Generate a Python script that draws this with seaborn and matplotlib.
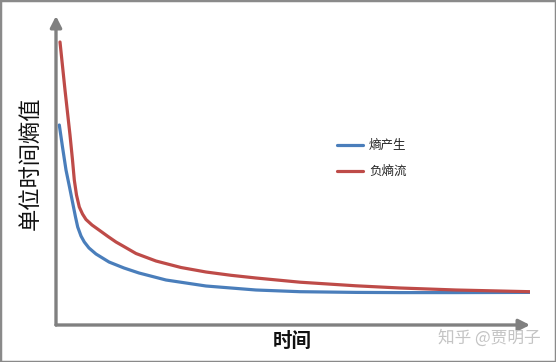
import matplotlib
matplotlib.use("Agg")
import matplotlib.pyplot as plt
import seaborn as sns
import pandas as pd
from matplotlib.patches import Rectangle

# data (arbitrary units)
time_blue = [3.3, 6.5, 10, 13.5, 16.7, 19.5, 21.7, 25, 28.3, 33, 40, 53, 68, 83, 110, 150, 200, 244, 300, 344, 400, 474]
entropy_production = [200, 178, 155, 138, 122, 108, 98, 89, 83, 77, 71, 63, 57, 52, 45, 39, 35, 33.3, 32.6, 32.4, 32.4, 32.6]
time_red = [4, 9, 14, 16.5, 18.3, 20.5, 23.3, 26.5, 30, 36, 43, 52, 60, 67, 80, 100, 125, 150, 175, 200, 244, 300, 344, 400, 474]
negative_entropy_flow = [283, 235, 190, 165, 145, 130, 118, 111, 105.5, 100, 95, 88.5, 83, 79, 71.5, 64, 57.5, 53, 49.7, 47, 42.8, 39.2, 37, 35, 33.3]
series_names = ["熵产生", "负熵流"]
colors = ["#4a7ebb", "#be4b48"]

df = pd.concat([
    pd.DataFrame({"t": time_blue, "v": entropy_production, "s": series_names[0]}),
    pd.DataFrame({"t": time_red, "v": negative_entropy_flow, "s": series_names[1]}),
])

sns.set_theme(style="white")
plt.rcParams["font.family"] = ["Noto Sans CJK SC", "DejaVu Sans"]

W, H = 556, 362
fig = plt.figure(figsize=(W / 100, H / 100), dpi=100)
ax = fig.add_axes([56 / W, 1 - 325 / H, (530 - 56) / W, (325 - 16) / H])
ax.set_facecolor("none")

sns.lineplot(data=df, x="t", y="v", hue="s", palette=colors, linewidth=2.3,
             ax=ax, sort=False, estimator=None, solid_joinstyle="round",
             solid_capstyle="round")
ax.set_xlim(0, 474)
ax.set_ylim(0, 309)
for sp in ax.spines.values():
    sp.set_visible(False)
ax.set_xticks([])
ax.set_yticks([])
ax.set_xlabel("")
ax.set_ylabel("")

axis_color = "#808080"
arrow = dict(arrowstyle="-|>,head_length=0.55,head_width=0.28", color=axis_color, lw=2.4,
             shrinkA=0, shrinkB=0)
ax.annotate("", xy=(1, 0), xytext=(0, 0), xycoords="axes fraction", arrowprops=arrow,
            annotation_clip=False)
ax.annotate("", xy=(0, 1), xytext=(0, 0), xycoords="axes fraction", arrowprops=arrow,
            annotation_clip=False)

leg = ax.legend(loc="upper left", bbox_to_anchor=(337 / W, 1 - 139 / H),
                bbox_transform=fig.transFigure, frameon=False, fontsize=9,
                handlelength=2.1, handletextpad=0.45, labelspacing=1.05,
                borderpad=0, borderaxespad=0)

fig.text(30 / W, 1 - 163 / H, "单位时间熵值", rotation=90, ha="center", va="center",
         fontsize=16, color="#111111")
fig.text(292 / W, 1 - 341 / H, "时间", ha="center", va="center", fontsize=14,
         fontweight="bold", color="#111111")
fig.text(489 / W, 1 - 338 / H, "知乎 @贾明子", ha="center", va="center", fontsize=12,
         color="#c4c4c4")

fig.patches.append(Rectangle((0, 0), 1, 1, transform=fig.transFigure, fill=False,
                             edgecolor="#8a8a8a", linewidth=2.5))

fig.savefig("out.png", dpi=100)
